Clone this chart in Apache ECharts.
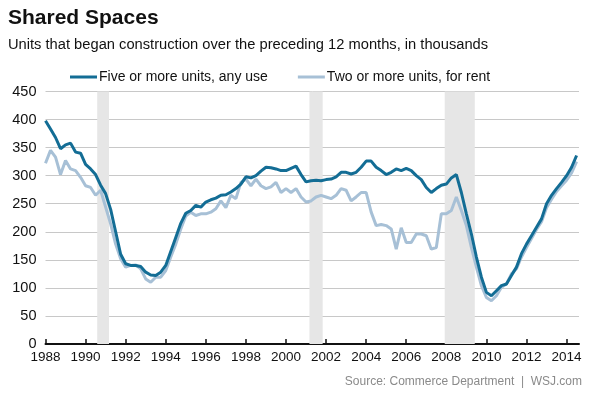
<!DOCTYPE html>
<html>
<head>
<meta charset="utf-8">
<script src="https://cdn.jsdelivr.net/npm/echarts@6/dist/echarts.min.js"></script>
<style>
  html, body { margin: 0; padding: 0; background: #fff; }
  #chart { width: 600px; height: 399px; }
</style>
</head>
<body>
<div id="chart"></div>
<script>
// quarterly readings, starting Q1 1988
const startYear = 1988
const fivePlus = [
  398, 383, 368, 348,
  355, 358, 342, 340,
  320, 312, 302, 283,
  268, 240, 200, 160,
  143, 140, 140, 138,
  128, 123, 122, 128,
  140, 165, 190, 215,
  233, 238, 247, 244,
  253, 257, 260, 265,
  266, 271, 277, 285,
  298, 296, 300, 308,
  315, 314, 312, 309,
  309, 313, 317, 302,
  289, 291, 292, 291,
  293, 294, 298, 306,
  306, 303, 306, 315,
  326, 326, 315, 309,
  302, 306, 312, 309,
  313, 309, 300, 293,
  279, 270, 277, 283,
  285, 296, 302, 270,
  232, 196, 155, 119,
  92, 86, 95, 104,
  107, 122, 137, 161,
  178, 193, 208, 223,
  250, 265, 277, 288,
  300, 315, 336
]
const twoPlusRent = [
  322, 345, 333, 302,
  327, 312, 309, 297,
  282, 279, 265, 274,
  244, 214, 178, 152,
  137, 140, 141, 134,
  116, 110, 119, 119,
  131, 155, 178, 205,
  228, 235, 229, 232,
  232, 235, 241, 255,
  243, 265, 259, 288,
  294, 282, 294, 282,
  277, 280, 288, 270,
  277, 270, 277, 262,
  253, 255, 262, 265,
  262, 259, 265, 277,
  274, 255, 262, 270,
  270, 235, 211, 213,
  211, 205, 169, 207,
  181, 181, 196, 196,
  193, 169, 172, 232,
  232, 238, 262, 238,
  211, 172, 137, 104,
  83, 77, 86, 101,
  107, 125, 134, 155,
  172, 188, 204, 218,
  243, 258, 272, 282,
  292, 305, 325
]
// recessions (decimal years)
const recessions = [[1990.58, 1991.17], [2001.17, 2001.83], [2007.92, 2009.42]]

const toPoints = arr => arr.map((v, i) => [startYear + i / 4, v])

const chart = echarts.init(document.getElementById('chart'))
const font = 'Liberation Sans, Arial, sans-serif'

chart.setOption({
  animation: false,
  textStyle: { fontFamily: font },
  title: [
    { text: 'Shared Spaces', left: 8, top: 8, padding: 0,
      textStyle: { fontSize: 21, fontWeight: 'bold', color: '#111', fontFamily: font } },
    { text: 'Units that began construction over the preceding 12 months, in thousands', left: 8, top: 37, padding: 0,
      textStyle: { fontSize: 14.7, fontWeight: 'normal', color: '#111', fontFamily: font } }
  ],
  legend: {
    left: 65, top: 65,
    itemWidth: 27, itemHeight: 3, itemGap: 30,
    icon: 'rect',
    textStyle: { fontSize: 14, color: '#111', padding: [0, 0, 0, -3] },
    data: ['Five or more units, any use', 'Two or more units, for rent']
  },
  grid: { left: 45.5, right: 21, top: 91.5, bottom: 55 },
  xAxis: {
    type: 'value', min: 1988, max: 2014.62, interval: 2,
    axisLine: { lineStyle: { color: '#111', width: 2 } },
    axisTick: { inside: true, length: 5, lineStyle: { color: '#111', width: 1.5 } },
    axisLabel: { color: '#111', fontSize: 13.5, margin: 6, showMaxLabel: false,
      formatter: v => (Number.isInteger(v) ? String(v) : '') },
    splitLine: { show: false }
  },
  yAxis: {
    type: 'value', min: 0, max: 450, interval: 50,
    axisLine: { show: false }, axisTick: { show: false },
    axisLabel: { color: '#111', fontSize: 14.5, margin: 9 },
    splitLine: { lineStyle: { color: '#c8c8c8', width: 1 } }
  },
  series: [
    {
      name: 'recessions', type: 'line', data: [], silent: true, z: 1,
      markArea: {
        silent: true,
        itemStyle: { color: '#e6e6e6' },
        data: recessions.map(r => [{ xAxis: r[0] }, { xAxis: r[1] }])
      }
    },
    {
      name: 'Two or more units, for rent', type: 'line', z: 3,
      data: toPoints(twoPlusRent),
      showSymbol: false,
      lineStyle: { color: '#a7c0d6', width: 3 },
      itemStyle: { color: '#a7c0d6' }
    },
    {
      name: 'Five or more units, any use', type: 'line', z: 4,
      data: toPoints(fivePlus),
      showSymbol: false,
      lineStyle: { color: '#136d95', width: 3 },
      itemStyle: { color: '#136d95' }
    }
  ],
  graphic: [{
    type: 'text', right: 18, top: 376,
    style: { text: 'Source: Commerce Department  |  WSJ.com', fill: '#8a8a8a', fontSize: 12, fontFamily: font }
  }]
})
</script>
</body>
</html>
